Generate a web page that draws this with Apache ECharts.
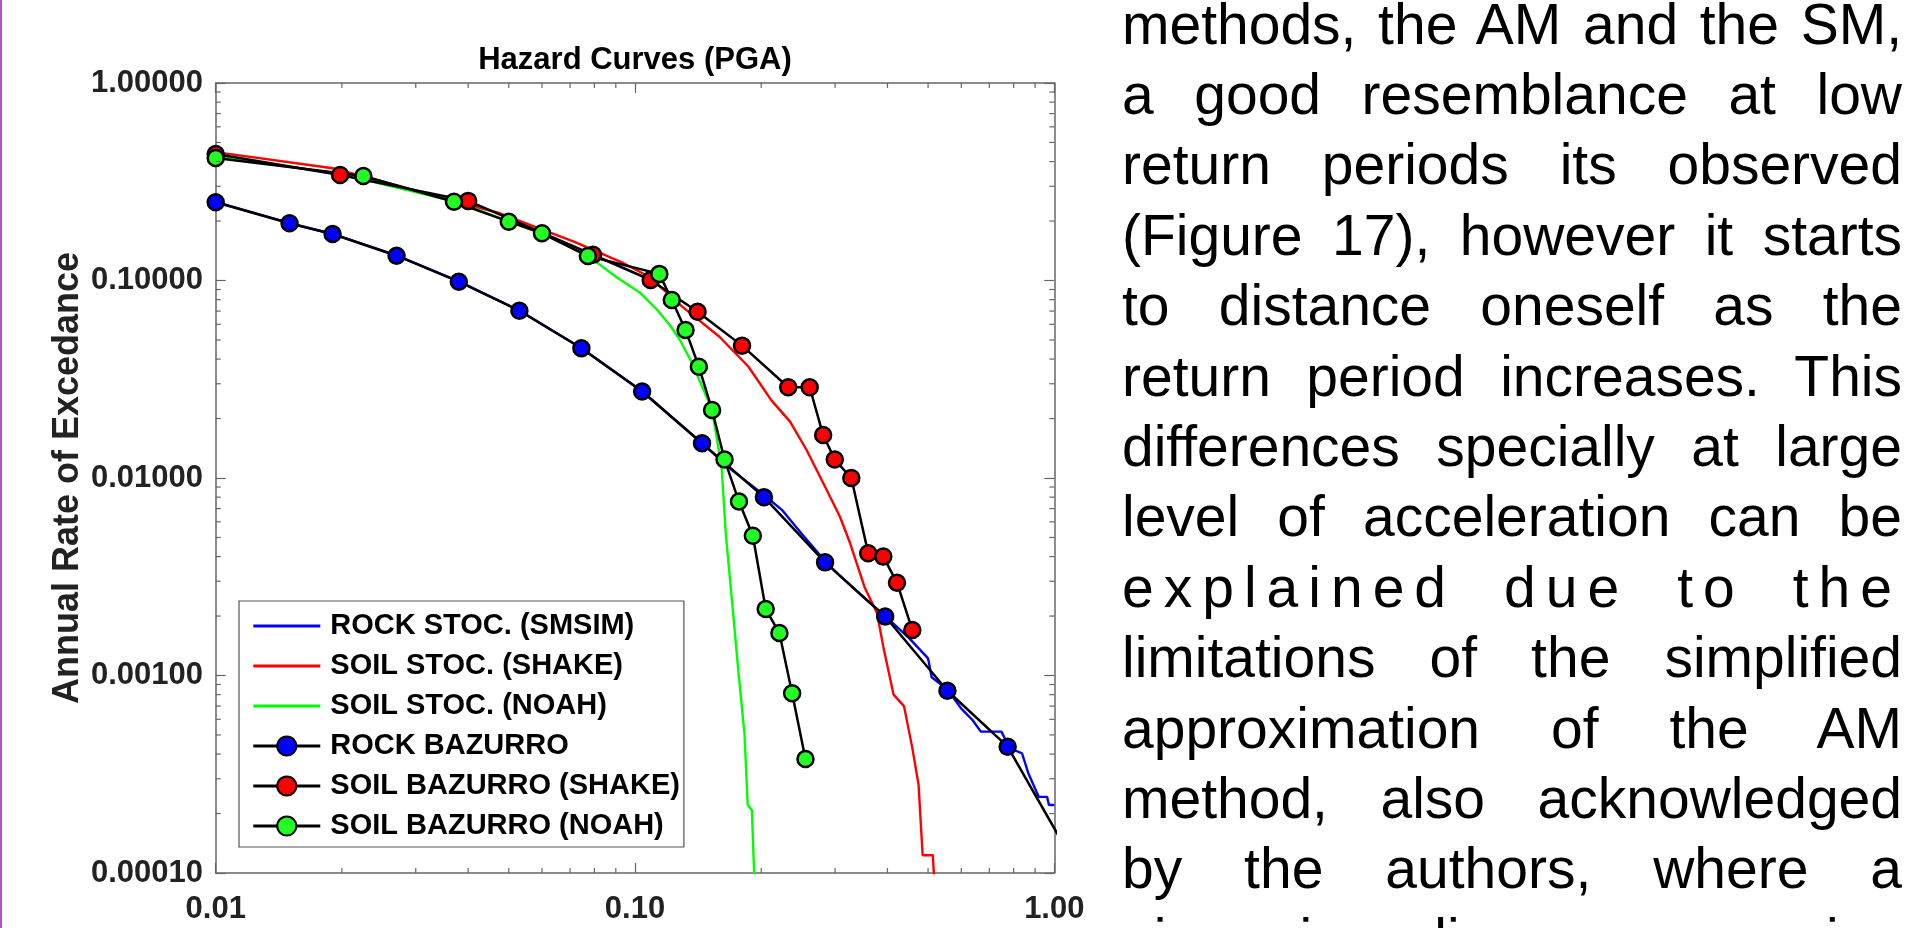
<!DOCTYPE html>
<html>
<head>
<meta charset="utf-8">
<script src="https://cdn.jsdelivr.net/npm/echarts@6/dist/echarts.min.js"></script>
<style>
  html, body { margin: 0; padding: 0; background: #fff; }
  #chart { position: absolute; left: 0; top: 0; width: 1914px; height: 928px; }
  #edge { position: absolute; left: 0; top: 0; width: 2px; height: 928px; background: #b450c8; }
  #para { position: absolute; left: 1122px; top: -11.4px; width: 780px;
          font-family: "Liberation Sans", Arial, sans-serif; font-size: 57px; color: #000; }
  #para div { height: 70.4px; line-height: 70.4px; white-space: nowrap; text-align: justify; text-align-last: justify; }
  #para div.wide { letter-spacing: 10px; }
</style>
</head>
<body>
<div id="chart"></div>
<div id="edge"></div>
<div id="para"></div>
<script>
// ---------- data ----------
const titleText = 'Hazard Curves (PGA)';
const yAxisName = 'Annual Rate of Excedance';
const seriesNames = ['ROCK STOC. (SMSIM)', 'SOIL STOC. (SHAKE)', 'SOIL STOC. (NOAH)', 'ROCK BAZURRO', 'SOIL BAZURRO (SHAKE)', 'SOIL BAZURRO (NOAH)'];

const X_MIN = 0.01, X_MAX = 1;
const Y_MIN = 0.0001, Y_MAX = 1;
const xMinorTicks = [0.02, 0.03, 0.04, 0.05, 0.06, 0.07, 0.08, 0.09, 0.2, 0.3, 0.4, 0.5, 0.6, 0.7, 0.8, 0.9];
const yMinorTicks = [0.0002, 0.0003, 0.0004, 0.0005, 0.0006, 0.0007, 0.0008, 0.0009,
                     0.002, 0.003, 0.004, 0.005, 0.006, 0.007, 0.008, 0.009,
                     0.02, 0.03, 0.04, 0.05, 0.06, 0.07, 0.08, 0.09,
                     0.2, 0.3, 0.4, 0.5, 0.6, 0.7, 0.8, 0.9];

const rockStoc = [[0.01,0.25],[0.015,0.195],[0.019,0.172],[0.027,0.134],[0.038,0.099],[0.053,0.0705],[0.0745,0.0455],
  [0.104,0.0275],[0.1445,0.0150],[0.17,0.0110],[0.203,0.0082],[0.224,0.0069],[0.25,0.0052],[0.284,0.0038],[0.308,0.0032],
  [0.35,0.0025],[0.395,0.0020],[0.45,0.00155],[0.50,0.00122],[0.51,0.00098],[0.556,0.00085],[0.60,0.00068],[0.638,0.000595],
  [0.668,0.00052],[0.748,0.00052],[0.774,0.00045],[0.80,0.00042],[0.8375,0.000404],[0.867,0.00032],[0.918,0.000243],
  [0.961,0.000243],[0.971,0.000221],[1.0,0.000221]];

const soilStocShake = [[0.01,0.447],[0.019,0.370],[0.0476,0.219],[0.0717,0.157],[0.0942,0.122],[0.108,0.1045],[0.1296,0.0737],
  [0.159,0.0519],[0.1865,0.0366],[0.2113,0.0248],[0.2343,0.0193],[0.2564,0.0139],[0.2842,0.0090],[0.3078,0.0064],[0.3256,0.0047],
  [0.3528,0.0028],[0.3777,0.00207],[0.391,0.0014],[0.4137,0.0008],[0.438,0.0007],[0.4585,0.00043],[0.4745,0.00028],
  [0.4853,0.000123],[0.5133,0.000123],[0.519,0.00008]];

const soilStocNoah = [[0.01,0.425],[0.02,0.345],[0.037,0.252],[0.05,0.199],[0.06,0.174],[0.077,0.134],[0.09,0.1045],
  [0.1032,0.0861],[0.113,0.0709],[0.121,0.0595],[0.128,0.050],[0.1356,0.0396],[0.1435,0.0302],[0.1527,0.0221],[0.1609,0.0114],
  [0.1646,0.00525],[0.1703,0.00241],[0.176,0.00111],[0.1824,0.00051],[0.1857,0.000221],[0.19,0.000208],[0.1931,0.00008]];

const rockBazurro = [[0.01,0.249],[0.015,0.195],[0.019,0.172],[0.027,0.1335],[0.038,0.0986],[0.053,0.0703],[0.0745,0.0454],
  [0.104,0.0274],[0.1445,0.0150],[0.203,0.0080],[0.284,0.00374],[0.395,0.00199],[0.556,0.000837],[0.774,0.000436],[1.1,0.000118]];

const soilBazurroShake = [[0.01,0.437],[0.0198,0.342],[0.040,0.253],[0.0794,0.135],[0.109,0.1006],[0.141,0.0695],[0.18,0.0468],
  [0.232,0.0288],[0.261,0.0288],[0.281,0.0165],[0.2995,0.0124],[0.328,0.0100],[0.36,0.00416],[0.391,0.0040],[0.4215,0.00295],[0.4585,0.0017]];

const soilBazurroNoah = [[0.01,0.417],[0.0225,0.338],[0.037,0.2506],[0.050,0.1985],[0.060,0.1734],[0.0772,0.133],[0.1143,0.108],
  [0.1224,0.0797],[0.132,0.0562],[0.142,0.0366],[0.1527,0.0221],[0.1635,0.0124],[0.177,0.0076],[0.191,0.0051],[0.205,0.00217],
  [0.221,0.00164],[0.237,0.000813],[0.255,0.000378]];

const paragraphLines = [
  'methods, the AM and the SM,',
  'a good resemblance at low',
  'return periods its observed',
  '(Figure 17), however it starts',
  'to distance oneself as the',
  'return period increases. This',
  'differences specially at large',
  'level of acceleration can be',
  'explained due to the',
  'limitations of the simplified',
  'approximation of the AM',
  'method, also acknowledged',
  'by the authors, where a',
  'piecewise linear regression'
];
const wideLines = [8];

// ---------- paragraph ----------
const para = document.getElementById('para');
paragraphLines.forEach((t, i) => {
  const d = document.createElement('div');
  d.textContent = t;
  if (wideLines.includes(i)) d.className = 'wide';
  para.appendChild(d);
});

// ---------- chart ----------
const FONT = '"Liberation Sans", Arial, sans-serif';
const AXIS_COLOR = '#666';
const chart = echarts.init(document.getElementById('chart'), null, { renderer: 'canvas' });

function minorTickSeries(values, isX) {
  return {
    type: 'custom', silent: true, z: 5,
    xAxisIndex: 0, yAxisIndex: 0,
    data: values.map(v => isX ? [v, Y_MIN] : [X_MIN, v]),
    renderItem: function (params, api) {
      const v = api.value(isX ? 0 : 1);
      const st = { stroke: AXIS_COLOR, lineWidth: 1.2 };
      if (isX) {
        const b = api.coord([v, Y_MIN]), t = api.coord([v, Y_MAX]);
        return { type: 'group', children: [
          { type: 'line', shape: { x1: b[0], y1: b[1], x2: b[0], y2: b[1] - 5 }, style: st },
          { type: 'line', shape: { x1: t[0], y1: t[1], x2: t[0], y2: t[1] + 5 }, style: st }
        ]};
      }
      const l = api.coord([X_MIN, v]), r = api.coord([X_MAX, v]);
      return { type: 'group', children: [
        { type: 'line', shape: { x1: l[0], y1: l[1], x2: l[0] + 5, y2: l[1] }, style: st },
        { type: 'line', shape: { x1: r[0], y1: r[1], x2: r[0] - 5, y2: r[1] }, style: st }
      ]};
    }
  };
}

function stocSeries(name, data, color) {
  return { name, type: 'line', data, symbol: 'none', showSymbol: false,
    lineStyle: { color, width: 2.4 }, itemStyle: { color }, z: 2, clip: true };
}
function bazSeries(name, data, color) {
  return { name, type: 'line', data, symbol: 'circle', symbolSize: 16, showAllSymbol: true,
    lineStyle: { color: '#000', width: 2.5 },
    itemStyle: { color, borderColor: '#000', borderWidth: 2.5 }, z: 3, clip: true };
}

const axisCommon = {
  type: 'log', logBase: 10,
  axisLine: { show: true, lineStyle: { color: AXIS_COLOR, width: 1.5 } },
  splitLine: { show: false },
  axisTick: { show: true, inside: true, length: 10, lineStyle: { color: AXIS_COLOR, width: 1.2 } },
  minorTick: { show: false }
};

const legendData = seriesNames.map((n, i) => i < 3
  ? { name: n, itemStyle: { opacity: 0 } }
  : { name: n });

chart.setOption({
  animation: false,
  backgroundColor: '#fff',
  title: {
    text: titleText, left: 635, top: 45, textAlign: 'center', padding: 0,
    textStyle: { fontFamily: FONT, fontWeight: 'bold', fontSize: 31, color: '#000' }
  },
  grid: { left: 215.7, top: 83, right: 859.7, bottom: 55, containLabel: false },
  legend: {
    orient: 'vertical', left: 239, top: 601, padding: [7, 4, 3, 12.7],
    itemWidth: 67, itemHeight: 24, itemGap: 4,
    borderColor: '#555', borderWidth: 1.2, backgroundColor: '#fff',
    lineStyle: { width: 3.2 },
    textStyle: { fontFamily: FONT, fontWeight: 'bold', fontSize: 29, color: '#000', lineHeight: 36, padding: [0, 0, 0, 5] },
    data: legendData
  },
  xAxis: [
    Object.assign({}, axisCommon, { position: 'bottom', min: X_MIN, max: X_MAX,
      axisLabel: { show: true, margin: 21, fontFamily: FONT, fontWeight: 'bold', fontSize: 31, color: '#222',
        formatter: v => Number(v).toFixed(2), showMinLabel: true, showMaxLabel: true } }),
    Object.assign({}, axisCommon, { position: 'top', min: X_MIN, max: X_MAX, axisLabel: { show: false } })
  ],
  yAxis: [
    Object.assign({}, axisCommon, { position: 'left', min: Y_MIN, max: Y_MAX,
      name: yAxisName, nameLocation: 'middle', nameRotate: 90, nameGap: 130,
      nameTextStyle: { fontFamily: FONT, fontWeight: 'bold', fontSize: 36, color: '#222' },
      axisLabel: { show: true, margin: 12.7, fontFamily: FONT, fontWeight: 'bold', fontSize: 31, color: '#222',
        formatter: v => Number(v).toFixed(5), showMinLabel: true, showMaxLabel: true } }),
    Object.assign({}, axisCommon, { position: 'right', min: Y_MIN, max: Y_MAX, axisLabel: { show: false } })
  ],
  series: [
    stocSeries(seriesNames[0], rockStoc, '#0000ff'),
    stocSeries(seriesNames[1], soilStocShake, '#ff0000'),
    stocSeries(seriesNames[2], soilStocNoah, '#00ff00'),
    bazSeries(seriesNames[3], rockBazurro, '#0000ff'),
    bazSeries(seriesNames[4], soilBazurroShake, '#ff0000'),
    bazSeries(seriesNames[5], soilBazurroNoah, '#22ff22'),
    minorTickSeries(xMinorTicks, true),
    minorTickSeries(yMinorTicks, false)
  ]
});
</script>
</body>
</html>
